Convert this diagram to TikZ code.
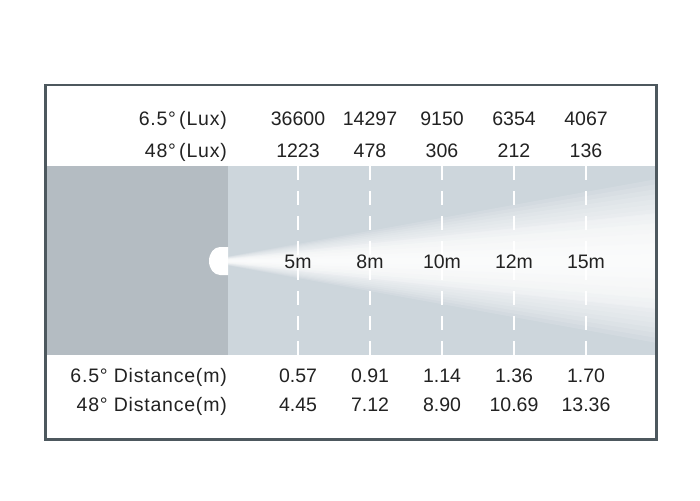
\documentclass[tikz,border=0pt]{standalone}
\usepackage{fontspec}
\setmainfont{Liberation Sans}
\newfontfamily\lblfont[LetterSpace=4]{Liberation Sans}
\definecolor{framecol}{HTML}{4D585E}
\definecolor{darkband}{HTML}{B4BCC2}
\definecolor{lightband}{HTML}{CDD6DC}
\definecolor{txt}{HTML}{222222}
\begin{document}
\begin{tikzpicture}[x=1pt,y=-1pt,
  lbl/.style={font=\lblfont\fontsize{19.5}{22}\selectfont, text=txt, inner sep=0pt, anchor=base east},
  val/.style={font=\fontsize{19.5}{22}\selectfont, text=txt, inner sep=0pt, anchor=base},
  marker/.style={draw=white, line width=2pt, dash pattern=on 14pt off 11pt}]
\useasboundingbox (0,0) rectangle (700,500);
\fill[white] (0,0) rectangle (700,500);
% band
\fill[lightband] (45,166) rectangle (657,355);
\fill[darkband] (45,166) rectangle (228,355);
% beam
\begin{scope}
  \clip (226,166) rectangle (657,355);
  \foreach \h in {82,77,...,7}
    \fill[white,opacity=0.12] (226,{261-\h/20}) -- (657,{261-\h}) -- (657,{261+\h}) -- (226,{261+\h/20}) -- cycle;
  \foreach \h in {48,38,28,18}
    \fill[white,opacity=0.22] (226,{261-\h/20}) -- (657,{261-\h}) -- (657,{261+\h}) -- (226,{261+\h/20}) -- cycle;
\end{scope}
% source
\fill[white] (228,247) -- (220,247) arc[start angle=270,end angle=90,x radius=11,y radius=14] -- (228,275) -- cycle;
% dashed distance markers
\foreach \x in {298,370,442,514,586}
  \draw[marker] (\x,166) -- (\x,355);
% row labels
\node[lbl] (r1) at (227,125.5) {6.5°\,(Lux)};
\node[lbl] (r2) at (227,157) {48°\,(Lux)};
\node[lbl] (r3) at (227,382) {6.5° Distance(m)};
\node[lbl] (r4) at (227,411.5) {48° Distance(m)};
% values
\foreach \x/\a/\b/\c/\d/\e [count=\i] in {
  298/36600/1223/5m/0.57/4.45,
  370/14297/478/8m/0.91/7.12,
  442/9150/306/10m/1.14/8.90,
  514/6354/212/12m/1.36/10.69,
  586/4067/136/15m/1.70/13.36}{
  \node[val] (a\i) at (\x,125.5) {\a};
  \node[val] (b\i) at (\x,157) {\b};
  \node[val] (m\i) at (\x,268) {\c};
  \node[val] (c\i) at (\x,382) {\d};
  \node[val] (d\i) at (\x,411.5) {\e};
}
% frame
\draw[framecol, line width=2.3pt] (45.5,85) rectangle (656.5,439.5);
\end{tikzpicture}
\end{document}
